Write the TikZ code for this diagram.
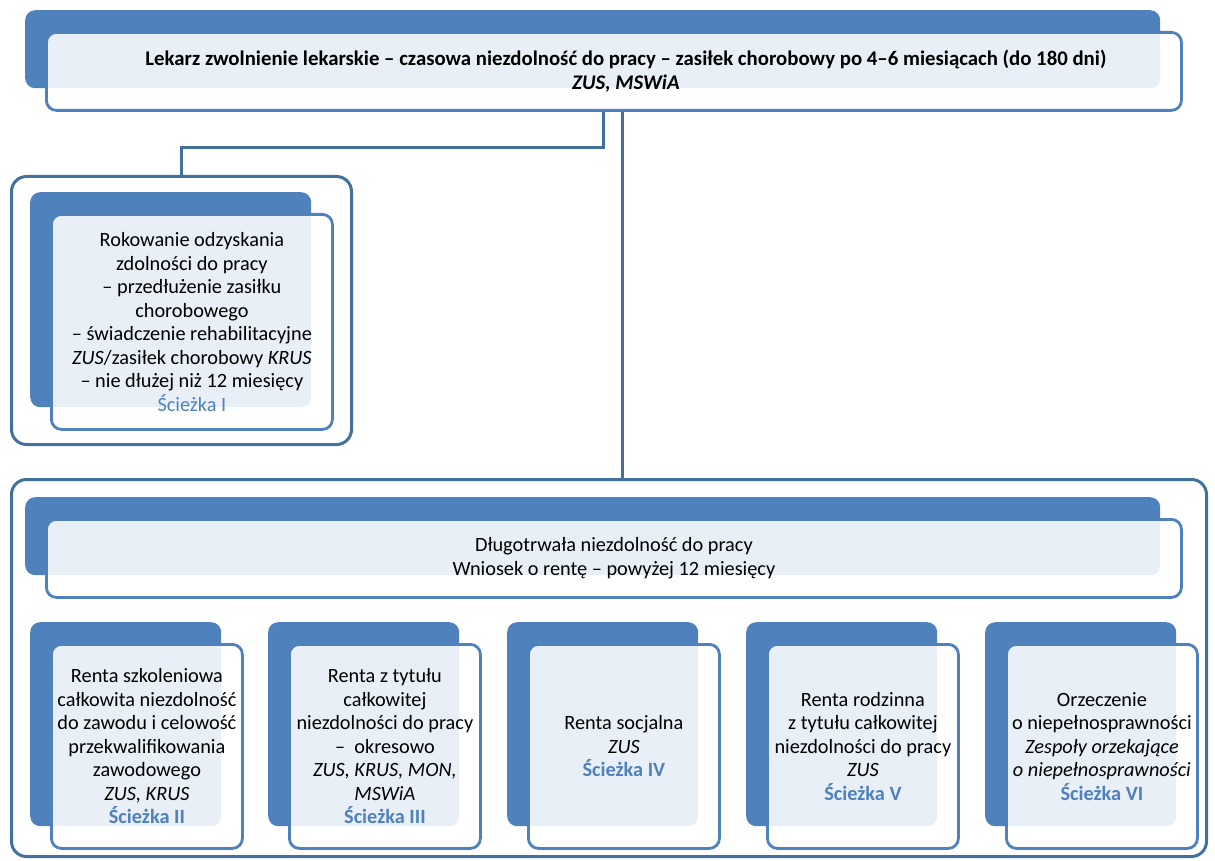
\documentclass[tikz,border=0pt]{standalone}
\usepackage{fontspec}
\setmainfont{Carlito}
\usetikzlibrary{calc}
\definecolor{cblue}{HTML}{4F81BD}
\definecolor{cline}{HTML}{41719C}
\definecolor{cpath}{HTML}{4F81BD}
\tikzset{
  backcard/.style={fill=cblue, draw=none, rounded corners=10pt, inner sep=0pt, anchor=north west},
  frontcard/.style={fill=white, fill opacity=0.88, text opacity=1, draw=cblue, draw opacity=1,
    line width=2.8pt, rounded corners=10pt, inner sep=0pt, anchor=north west, align=center,
    font=\fontsize{20.3}{23.5}\selectfont},
  outerbox/.style={fill=white, draw=cline, line width=3pt, rounded corners=15pt, inner sep=0pt, anchor=north west},
  conn/.style={draw=cline, line width=3pt},
  pathlbl/.style={text=cpath}
}
\newcommand\card[6]{%
  \node[backcard, minimum width=#4pt, minimum height=#5pt] (#1b) at (#2,#3) {};
  \node[frontcard, minimum width=#4pt, minimum height=#5pt] (#1) at ($(#1b.north west)+(20,21)$) {#6};
}
\begin{document}
\begin{tikzpicture}[x=1pt,y=-1pt]
\useasboundingbox (0,0) rectangle (1215,861);
% outer frames
\node[outerbox, minimum width=340pt, minimum height=268pt] (outerI) at (10,175) {};
\node[outerbox, minimum width=1195pt, minimum height=377pt] (outerB) at (10,478) {};
% top card
\card{top}{25}{10}{1135}{78}{\hspace*{24pt}{\fontsize{20.8}{23.5}\selectfont\textbf{Lekarz zwolnienie lekarskie – czasowa niezdolność do pracy – zasiłek chorobowy po 4–6 miesiącach (do 180 dni)}}\\ \hspace*{24pt}{\fontsize{20.8}{23.5}\selectfont\textbf{\textit{ZUS, MSWiA}}}}
% path I
\card{pI}{30}{192}{281}{215}{Rokowanie odzyskania\\ zdolności do pracy\\ – przedłużenie zasiłku\\ chorobowego\\ – świadczenie rehabilitacyjne\\ \textit{ZUS}/zasiłek chorobowy \textit{KRUS}\\ – nie dłużej niż 12 miesięcy\\ {\color{cpath}Ścieżka I}}
% long-term header
\card{hdr}{25}{497}{1135}{78}{Długotrwała niezdolność do pracy\\ Wniosek o rentę – powyżej 12 miesięcy}
% five paths
\card{pII}{30}{622}{191}{204}{Renta szkoleniowa\\ całkowita niezdolność\\ do zawodu i celowość\\ przekwalifikowania\\ zawodowego\\ \textit{ZUS, KRUS}\\ {\color{cpath}\textbf{Ścieżka II}}}
\card{pIII}{268}{622}{191}{204}{Renta z tytułu\\ całkowitej\\ niezdolności do pracy\\ –\ \ okresowo\\ \textit{ZUS, KRUS, MON,}\\ \textit{MSWiA}\\ {\color{cpath}\textbf{Ścieżka III}}}
\card{pIV}{507}{622}{191}{204}{Renta socjalna\\ \textit{ZUS}\\ {\color{cpath}\textbf{Ścieżka IV}}}
\card{pV}{746}{622}{191}{204}{Renta rodzinna\\ z tytułu całkowitej\\ niezdolności do pracy\\ \textit{ZUS}\\ {\color{cpath}\textbf{Ścieżka V}}}
\card{pVI}{985}{622}{191}{204}{Orzeczenie\\ o niepełnosprawności\\ \textit{Zespoły orzekające}\\ \textit{o niepełnosprawności}\\ {\color{cpath}\textbf{Ścieżka VI}}}
% connectors
\coordinate (j1) at (603,148);
\coordinate (x2) at (622,300);
\draw[conn] (top.south -| j1) -- (j1) -| (outerI.north);
\draw[conn] (top.south -| x2) -- (outerB.north -| x2);
\end{tikzpicture}
\end{document}
